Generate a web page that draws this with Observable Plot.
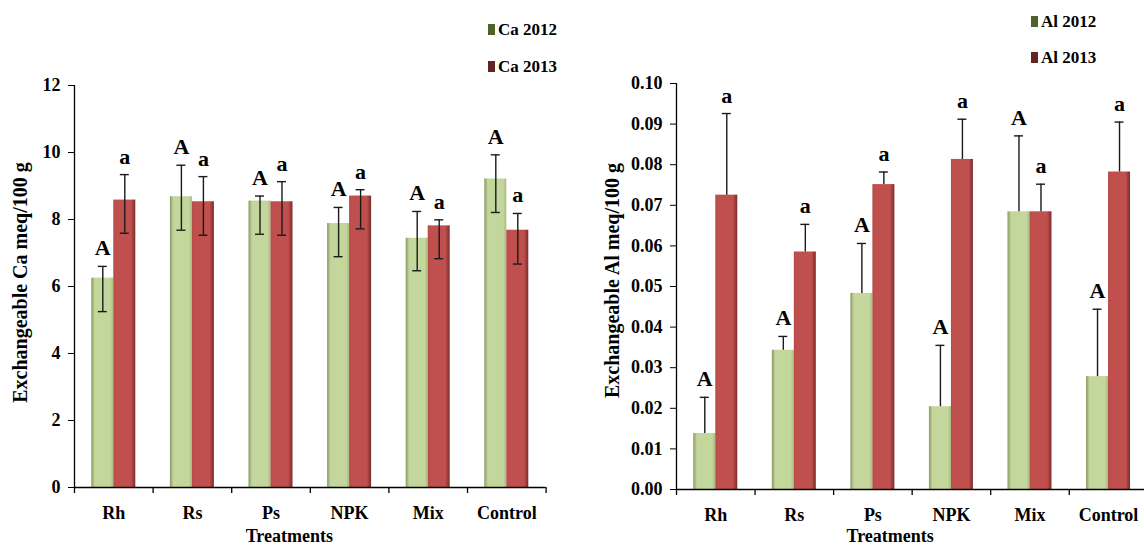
<!DOCTYPE html>
<html><head><meta charset="utf-8">
<script src="https://cdn.jsdelivr.net/npm/d3@7"></script>
<script src="https://cdn.jsdelivr.net/npm/@observablehq/plot@0.6"></script>
<style>
html,body{margin:0;padding:0;background:#fff;overflow:hidden;}
#wrap{position:relative;width:1144px;height:549px;overflow:hidden;background:#fff;}
.panel{position:absolute;top:0;}
.panel svg{max-width:none !important;display:block;}
.legend-item{position:absolute;white-space:nowrap;display:flex;align-items:center;height:17px;line-height:17px;
  font-family:"Liberation Serif","Times New Roman",serif;font-weight:bold;font-size:17px;color:#000;}
.sw{display:inline-block;width:7px;height:11px;margin-right:3px;}
</style></head><body><div id="wrap"></div>
<script>
// ---- data ----
const treatments = ["Rh", "Rs", "Ps", "NPK", "Mix", "Control"];

const ca2012   = [6.25, 8.68, 8.55, 7.88, 7.44, 9.21];
const ca2012Hi = [6.60, 9.62, 8.70, 8.36, 8.24, 9.93];
const ca2012Lo = [5.25, 7.68, 7.56, 6.89, 6.47, 8.21];
const ca2013   = [8.58, 8.53, 8.53, 8.70, 7.81, 7.68];
const ca2013Hi = [9.34, 9.28, 9.13, 8.89, 7.99, 8.18];
const ca2013Lo = [7.59, 7.53, 7.53, 7.72, 6.83, 6.67];

const al2012   = [0.0138, 0.0343, 0.0483, 0.0204, 0.0684, 0.0278];
const al2012Hi = [0.0227, 0.0377, 0.0606, 0.0355, 0.0871, 0.0444];
const al2013   = [0.0725, 0.0585, 0.0751, 0.0813, 0.0684, 0.0782];
const al2013Hi = [0.0926, 0.0653, 0.0782, 0.0912, 0.0752, 0.0905];

const letters2012 = ["A", "A", "A", "A", "A", "A"];
const letters2013 = ["a", "a", "a", "a", "a", "a"];

const caTicks = [0, 2, 4, 6, 8, 10, 12];
const alTicks = [0, 0.01, 0.02, 0.03, 0.04, 0.05, 0.06, 0.07, 0.08, 0.09, 0.10];

const caLegend = ["Ca 2012", "Ca 2013"];
const alLegend = ["Al 2012", "Al 2013"];

const green = "#c3d69b", red = "#c0504d";
const greenDark = "#4f6228", redDark = "#632523";

// ---- chart builder ----
function makeChart(cfg) {
  const {W, H, ml, mr, mt, mb, id} = cfg;
  const bw = (W - ml - mr) / treatments.length;
  const barW = 22;
  const rows12 = treatments.map((t, i) => ({t, v: cfg.v12[i], hi: cfg.hi12[i], lo: cfg.lo12 ? cfg.lo12[i] : cfg.v12[i], l: letters2012[i]}));
  const rows13 = treatments.map((t, i) => ({t, v: cfg.v13[i], hi: cfg.hi13[i], lo: cfg.lo13 ? cfg.lo13[i] : cfg.v13[i], l: letters2013[i]}));
  const err = {stroke: "#1a1a1a", strokeWidth: 1.4};
  const capIn = bw / 2 - 4.5;
  const both = !!cfg.lo12;
  const marks = [
    Plot.barY(rows12, {x: "t", y: "v", fill: `url(#g12${id})`, insetLeft: bw / 2 - barW, insetRight: bw / 2}),
    Plot.barY(rows13, {x: "t", y: "v", fill: `url(#g13${id})`, insetLeft: bw / 2, insetRight: bw / 2 - barW})
  ];
  for (const [rows, dx] of [[rows12, -barW / 2], [rows13, barW / 2]]) {
    marks.push(Plot.ruleX(rows, {x: "t", y1: "lo", y2: "hi", dx, ...err}));
    marks.push(Plot.tickY(rows, {x: "t", y: "hi", dx, insetLeft: capIn, insetRight: capIn, ...err}));
    if (both) marks.push(Plot.tickY(rows, {x: "t", y: "lo", dx, insetLeft: capIn, insetRight: capIn, ...err}));
    marks.push(Plot.text(rows, {x: "t", y: "hi", text: "l", dx, dy: -11, lineAnchor: "bottom", fontSize: 22}));
  }
  marks.push(
    Plot.ruleY([0], {stroke: "#000", strokeWidth: 1.3}),
    Plot.ruleX([treatments[0]], {x: d => d, dx: -bw / 2, y1: cfg.domain[0], y2: cfg.domain[1], stroke: "#000", strokeWidth: 1.3}),
    Plot.ruleX(treatments, {x: d => d, dx: -bw / 2, y1: 0, y2: 0, insetBottom: -6, stroke: "#000", strokeWidth: 1.3}),
    Plot.ruleX([treatments[treatments.length - 1]], {x: d => d, dx: bw / 2, y1: 0, y2: 0, insetBottom: -6, stroke: "#000", strokeWidth: 1.3}),
    Plot.axisY({ticks: cfg.ticks, tickFormat: cfg.fmt, tickSize: 6, tickPadding: 8, fontSize: 18, label: null}),
    Plot.axisX({tickSize: 0, tickPadding: 19, fontSize: 18, label: null}),
    Plot.text(["Treatments"], {frameAnchor: "bottom", textAnchor: "middle", lineAnchor: "middle", dx: cfg.tdx, dy: cfg.tdy, fontSize: 18}),
    Plot.text([cfg.yTitle], {frameAnchor: "left", textAnchor: "middle", lineAnchor: "middle", rotate: -90, dx: cfg.ydx, dy: cfg.ydy, fontSize: 20})
  );
  const svg = Plot.plot({
    width: W, height: H,
    marginLeft: ml, marginRight: mr, marginTop: mt, marginBottom: mb,
    style: {fontFamily: '"Liberation Serif","Times New Roman",serif', fontWeight: "bold", fontSize: "18px", background: "#fff", color: "#000"},
    x: {domain: treatments, padding: 0, round: false},
    y: {domain: cfg.domain, label: null},
    marks
  });
  const ns = "http://www.w3.org/2000/svg";
  const defs = document.createElementNS(ns, "defs");
  defs.innerHTML =
    `<linearGradient id="g12${id}" x1="0" x2="1" y1="0" y2="0">
       <stop offset="0" stop-color="#879862"/><stop offset="0.16" stop-color="${green}"/>
       <stop offset="0.86" stop-color="${green}"/><stop offset="1" stop-color="#a8ba82"/></linearGradient>
     <linearGradient id="g13${id}" x1="0" x2="1" y1="0" y2="0">
       <stop offset="0" stop-color="#b64a47"/><stop offset="0.12" stop-color="${red}"/>
       <stop offset="0.8" stop-color="${red}"/><stop offset="1" stop-color="#7a2c2a"/></linearGradient>`;
  svg.insertBefore(defs, svg.firstChild);
  return svg;
}

const wrap = document.getElementById("wrap");
function addPanel(svg, left, width) {
  const d = document.createElement("div");
  d.className = "panel";
  d.style.left = left + "px";
  d.style.width = width + "px";
  d.appendChild(svg);
  wrap.appendChild(d);
}
function addLegend(labels, x, ys) {
  const cols = [greenDark, redDark];
  labels.forEach((lab, i) => {
    const it = document.createElement("div");
    it.className = "legend-item";
    it.style.left = x + "px";
    it.style.top = (ys[i] - 8.5) + "px";
    const sw = document.createElement("span");
    sw.className = "sw";
    sw.style.background = cols[i];
    it.appendChild(sw);
    it.appendChild(document.createTextNode(lab));
    wrap.appendChild(it);
  });
}

addPanel(makeChart({
  id: "ca", W: 572, H: 549, ml: 74, mr: 26.4, mt: 85, mb: 62,
  domain: [0, 12], ticks: caTicks, fmt: d => String(d),
  v12: ca2012, hi12: ca2012Hi, lo12: ca2012Lo,
  v13: ca2013, hi13: ca2013Hi, lo13: ca2013Lo,
  yTitle: "Exchangeable Ca meq/100 g", ydx: -54, ydy: -4, tdx: -21, tdy: 49
}), 0, 572);

addPanel(makeChart({
  id: "al", W: 580, H: 549, ml: 104, mr: 4.7, mt: 83, mb: 60,
  domain: [0, 0.1], ticks: alTicks, fmt: d => d.toFixed(2),
  v12: al2012, hi12: al2012Hi,
  v13: al2013, hi13: al2013Hi,
  yTitle: "Exchangeable Al meq/100 g", ydx: -64, ydy: -6, tdx: -22, tdy: 47
}), 572, 580);

addLegend(caLegend, 488, [29, 66]);
addLegend(alLegend, 1031, [21, 57]);
</script></body></html>
